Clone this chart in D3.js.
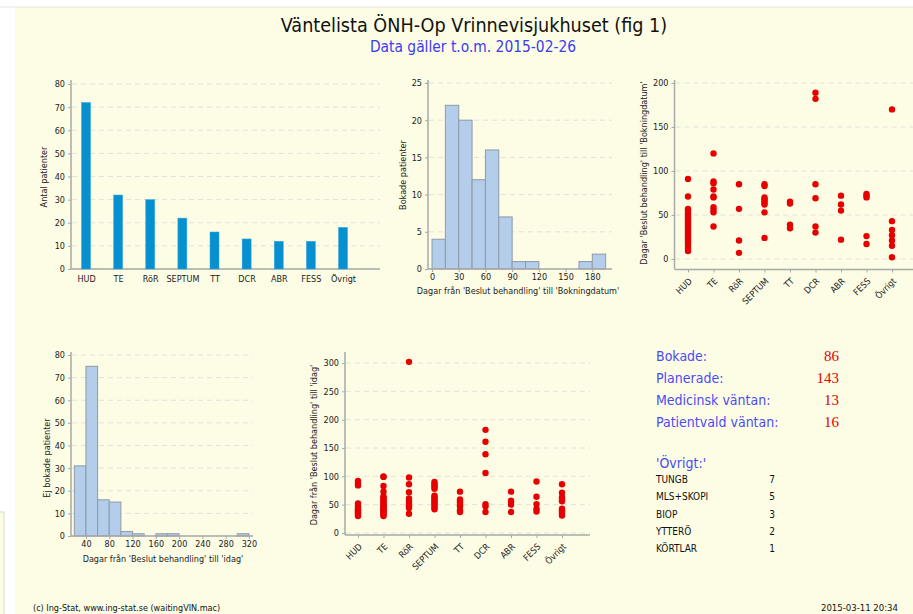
<!DOCTYPE html>
<html>
<head>
<meta charset="utf-8">
<script src="https://cdn.jsdelivr.net/npm/d3@7"></script>
<style>
body { margin: 0; background: #fff; }
</style>
</head>
<body>
<svg width="913" height="614"></svg>
<script>
// data
var categories = ["HUD", "TE", "RöR", "SEPTUM", "TT", "DCR", "ABR", "FESS", "Övrigt"];
var antalPatienter = [72, 32, 30, 22, 16, 13, 12, 12, 18];

var bokadeBinStart = [0, 15, 30, 45, 60, 75, 90, 105, 120, 135, 150, 165, 180];
var bokadeCounts = [4, 22, 20, 12, 16, 7, 1, 1, 0, 0, 0, 1, 2];
var bokadeTicks = [0, 30, 60, 90, 120, 150, 180];

var ejBokadeBinStart = [20, 40, 60, 80, 100, 120, 140, 160, 180, 200, 220, 240, 260, 280, 300];
var ejBokadeCounts = [31, 75, 16, 15, 2, 1, 0, 1, 1, 0, 0, 0, 0, 0, 1];
var ejBokadeTicks = [40, 80, 120, 160, 200, 240, 280, 320];

// days per category, same order as categories
var bokadeDagar = [
  [91, 71, 57, 55, 52, 50, 48, 46, 44, 42, 40, 38, 36, 34, 32, 30, 28, 26, 24, 22, 20, 18, 15, 12, 9],
  [120, 88, 86, 79, 71, 70, 59, 56, 53, 37],
  [85, 57, 21, 7],
  [85, 83, 70, 68, 66, 64, 62, 53, 24],
  [65, 63, 39, 35],
  [189, 182, 85, 69, 37, 30],
  [72, 62, 55, 22],
  [74, 72, 70, 26, 17],
  [170, 43, 33, 27, 21, 15, 2]
];
var idagDagar = [
  [92, 88, 84, 52, 48, 45, 42, 40, 38, 36, 34, 32, 30],
  [100, 99, 83, 73, 65, 62, 60, 57, 55, 52, 50, 48, 46, 44, 42, 40, 38, 36, 34, 32, 30],
  [302, 98, 86, 72, 61, 57, 53, 50, 47, 44, 34],
  [90, 87, 84, 81, 78, 66, 63, 60, 57, 54, 51, 48, 45, 42],
  [73, 59, 56, 53, 49, 46, 40, 37],
  [182, 161, 139, 106, 51, 47, 37],
  [73, 57, 54, 50, 37],
  [91, 64, 51, 43, 38],
  [86, 71, 63, 59, 56, 43, 40, 37, 34, 31]
];

var summaryLabels = ["Bokade:", "Planerade:", "Medicinsk väntan:", "Patientvald väntan:"];
var summaryValues = [86, 143, 13, 16];
var ovrigtLabels = ["TUNGB", "MLS+SKOPI", "BIOP", "YTTERÖ", "KÖRTLAR"];
var ovrigtValues = [7, 5, 3, 2, 1];

var font = "'DejaVu Sans Condensed', 'Liberation Sans Narrow', 'DejaVu Sans', sans-serif";
var axisColor = "#a9a9a9";
var gridColor = "#e2e2da";

var svg = d3.select("svg");

// background
svg.append("rect").attr("x", 15).attr("y", 7).attr("width", 898).attr("height", 607)
  .attr("fill", "#fdfde5");
svg.append("line").attr("x1", 0).attr("x2", 913).attr("y1", 7).attr("y2", 7)
  .attr("stroke", "#e4e4e4");
svg.append("rect").attr("x", -1).attr("y", 512).attr("width", 5).attr("height", 110)
  .attr("fill", "#fdfde5").attr("stroke", "#d8d8d8");

// titles
svg.append("text").attr("x", 474).attr("y", 32).attr("text-anchor", "middle")
  .style("font-family", font).style("font-size", "19.6px").attr("fill", "#111")
  .text("Väntelista ÖNH-Op Vrinnevisjukhuset (fig 1)");
svg.append("text").attr("x", 473).attr("y", 52).attr("text-anchor", "middle")
  .style("font-family", font).style("font-size", "15.4px").attr("fill", "#3c3cf0")
  .text("Data gäller t.o.m. 2015-02-26");

// helpers
function yAxis(y, tickVals, x0, x1, yTop, yBottom) {
  tickVals.forEach(function(t) {
    svg.append("line")
      .attr("x1", x0 + 1).attr("x2", x1)
      .attr("y1", y(t)).attr("y2", y(t))
      .attr("stroke", gridColor).attr("stroke-dasharray", "5,4");
  });
  var g = svg.append("g").attr("transform", "translate(" + x0 + ",0)")
    .call(d3.axisLeft(y).tickValues(tickVals).tickSize(3).tickPadding(3));
  g.select(".domain").remove();
  g.selectAll("line").attr("stroke", axisColor);
  g.selectAll("text").style("font-family", font).style("font-size", "9px").attr("fill", "#222");
  svg.append("line").attr("x1", x0).attr("x2", x0).attr("y1", yTop).attr("y2", yBottom)
    .attr("stroke", axisColor).attr("stroke-width", 1.5);
}

function xLine(x0, x1, yy) {
  svg.append("line").attr("x1", x0).attr("x2", x1).attr("y1", yy).attr("y2", yy)
    .attr("stroke", axisColor).attr("stroke-width", 1.5);
}

function label(txt, x, y, rot) {
  svg.append("text")
    .attr("transform", "translate(" + x + "," + y + ")" + (rot ? " rotate(-90)" : ""))
    .attr("text-anchor", "middle")
    .style("font-family", font).style("font-size", "9px").attr("fill", "#222")
    .text(txt);
}

// ---- bar chart
var xBar = d3.scalePoint().domain(categories).range([86, 343]);
var yBar = d3.scaleLinear().domain([0, 80]).range([269, 84]);
yAxis(yBar, d3.range(0, 81, 10), 71, 380, 80, 269);
xLine(71, 380, 269);
svg.selectAll(".bar").data(antalPatienter).enter().append("rect")
  .attr("x", function(d, i) { return xBar(categories[i]) - 4.5; })
  .attr("y", function(d) { return yBar(d); })
  .attr("width", 9)
  .attr("height", function(d) { return yBar(0) - yBar(d); })
  .attr("fill", "#0790d0").attr("stroke", "#3aa6da").attr("stroke-width", 0.5);
var gb = svg.append("g").attr("transform", "translate(0,269)")
  .call(d3.axisBottom(xBar).tickSize(0).tickPadding(7));
gb.select(".domain").remove();
gb.selectAll("text").style("font-family", font).style("font-size", "9px").attr("fill", "#222");
label("Antal patienter", 47, 177, true);

// ---- histogram bokade
var xH1 = d3.scaleLinear().domain([-4.5, 201]).range([428, 611]);
var yH1 = d3.scaleLinear().domain([0, 25]).range([269, 83]);
yAxis(yH1, d3.range(0, 26, 5), 428, 612, 80, 269);
svg.selectAll(".h1").data(bokadeCounts).enter().append("rect")
  .attr("x", function(d, i) { return xH1(bokadeBinStart[i]); })
  .attr("y", function(d) { return yH1(d); })
  .attr("width", function(d, i) { return xH1(bokadeBinStart[i] + 15) - xH1(bokadeBinStart[i]); })
  .attr("height", function(d) { return yH1(0) - yH1(d); })
  .attr("fill", "#b3cdea").attr("stroke", "#8f9aa6").attr("stroke-width", 1);
xLine(428, 612, 269);
var gh1 = svg.append("g").attr("transform", "translate(0,269)")
  .call(d3.axisBottom(xH1).tickValues(bokadeTicks).tickSize(3).tickPadding(2));
gh1.select(".domain").remove();
gh1.selectAll("line").attr("stroke", axisColor);
gh1.selectAll("text").style("font-family", font).style("font-size", "9px").attr("fill", "#222");
label("Dagar från 'Beslut behandling' till 'Bokningdatum'", 518, 294, false);
label("Bokade patienter", 406, 175, true);

// rotated category labels for the scatter plots
function rotatedLabels(g) {
  g.select(".domain").remove();
  g.selectAll("line").attr("stroke", axisColor);
  g.selectAll("text").style("font-family", font).style("font-size", "9px").attr("fill", "#222")
    .attr("text-anchor", "end").attr("dy", "0.35em").attr("y", 0).attr("x", 0)
    .attr("transform", "translate(2,10) rotate(-45)");
}

// ---- scatter bokade
var xS1 = d3.scalePoint().domain(categories).range([688, 892]);
var yS1 = d3.scaleLinear().domain([0, 200]).range([259, 83]);
yAxis(yS1, [0, 50, 100, 150, 200], 674.5, 913, 80, 269);
xLine(674.5, 913, 269.5);
var gs1 = svg.append("g").attr("transform", "translate(0,269.5)")
  .call(d3.axisBottom(xS1).tickSize(3));
rotatedLabels(gs1);
bokadeDagar.forEach(function(vals, i) {
  vals.forEach(function(v) {
    svg.append("circle").attr("cx", xS1(categories[i])).attr("cy", yS1(v))
      .attr("r", 3.2).attr("fill", "#e60000");
  });
});
label("Dagar 'Beslut behandling' till 'Bokningdatum'", 647, 173, true);

// ---- histogram ej bokade
var xH2 = d3.scaleLinear().domain([14.3, 327]).range([71, 253]);
var yH2 = d3.scaleLinear().domain([0, 80]).range([536, 355]);
yAxis(yH2, d3.range(0, 81, 10), 71, 253, 352, 536);
svg.selectAll(".h2").data(ejBokadeCounts).enter().append("rect")
  .attr("x", function(d, i) { return xH2(ejBokadeBinStart[i]); })
  .attr("y", function(d) { return yH2(d); })
  .attr("width", function(d, i) { return xH2(ejBokadeBinStart[i] + 20) - xH2(ejBokadeBinStart[i]); })
  .attr("height", function(d) { return yH2(0) - yH2(d); })
  .attr("fill", "#b3cdea").attr("stroke", "#8f9aa6").attr("stroke-width", 1);
xLine(71, 253, 536);
var gh2 = svg.append("g").attr("transform", "translate(0,536)")
  .call(d3.axisBottom(xH2).tickValues(ejBokadeTicks).tickSize(3).tickPadding(2));
gh2.select(".domain").remove();
gh2.selectAll("line").attr("stroke", axisColor);
gh2.selectAll("text").style("font-family", font).style("font-size", "9px").attr("fill", "#222");
label("Dagar från 'Beslut behandling' till 'idag'", 163, 562, false);
label("Ej bokade patienter", 50, 458, true);

// ---- scatter idag
var xS2 = d3.scalePoint().domain(categories).range([358, 562]);
var yS2 = d3.scaleLinear().domain([0, 300]).range([533, 363]);
yAxis(yS2, d3.range(0, 301, 50), 345, 590, 352, 535);
xLine(345, 590, 535);
var gs2 = svg.append("g").attr("transform", "translate(0,535)")
  .call(d3.axisBottom(xS2).tickSize(3));
rotatedLabels(gs2);
idagDagar.forEach(function(vals, i) {
  vals.forEach(function(v) {
    svg.append("circle").attr("cx", xS2(categories[i])).attr("cy", yS2(v))
      .attr("r", 3.2).attr("fill", "#e60000");
  });
});
label("Dagar från 'Beslut behandling' till 'idag'", 317, 445, true);

// ---- summary text
summaryLabels.forEach(function(t, i) {
  svg.append("text").attr("x", 656).attr("y", 361 + i * 22)
    .style("font-family", font).style("font-size", "14px").attr("fill", "#4b4bf5").text(t);
  svg.append("text").attr("x", 839).attr("y", 361 + i * 22).attr("text-anchor", "end")
    .style("font-family", "'Liberation Serif', serif").style("font-size", "15px").attr("fill", "#e60000")
    .text(summaryValues[i]);
});
svg.append("text").attr("x", 656).attr("y", 468)
  .style("font-family", font).style("font-size", "14px").attr("fill", "#4b4bf5").text("'Övrigt:'");
ovrigtLabels.forEach(function(t, i) {
  svg.append("text").attr("x", 656).attr("y", 483 + i * 17.3)
    .style("font-family", font).style("font-size", "10px").attr("fill", "#111").text(t);
  svg.append("text").attr("x", 775).attr("y", 483 + i * 17.3).attr("text-anchor", "end")
    .style("font-family", font).style("font-size", "10px").attr("fill", "#111").text(ovrigtValues[i]);
});

// footer
svg.append("text").attr("x", 33).attr("y", 611)
  .style("font-family", font).style("font-size", "9px").attr("fill", "#111")
  .text("(c) Ing-Stat, www.ing-stat.se (waitingVIN.mac)");
svg.append("text").attr("x", 898).attr("y", 611).attr("text-anchor", "end")
  .style("font-family", font).style("font-size", "9.5px").attr("fill", "#111")
  .text("2015-03-11 20:34");
</script>
</body>
</html>
